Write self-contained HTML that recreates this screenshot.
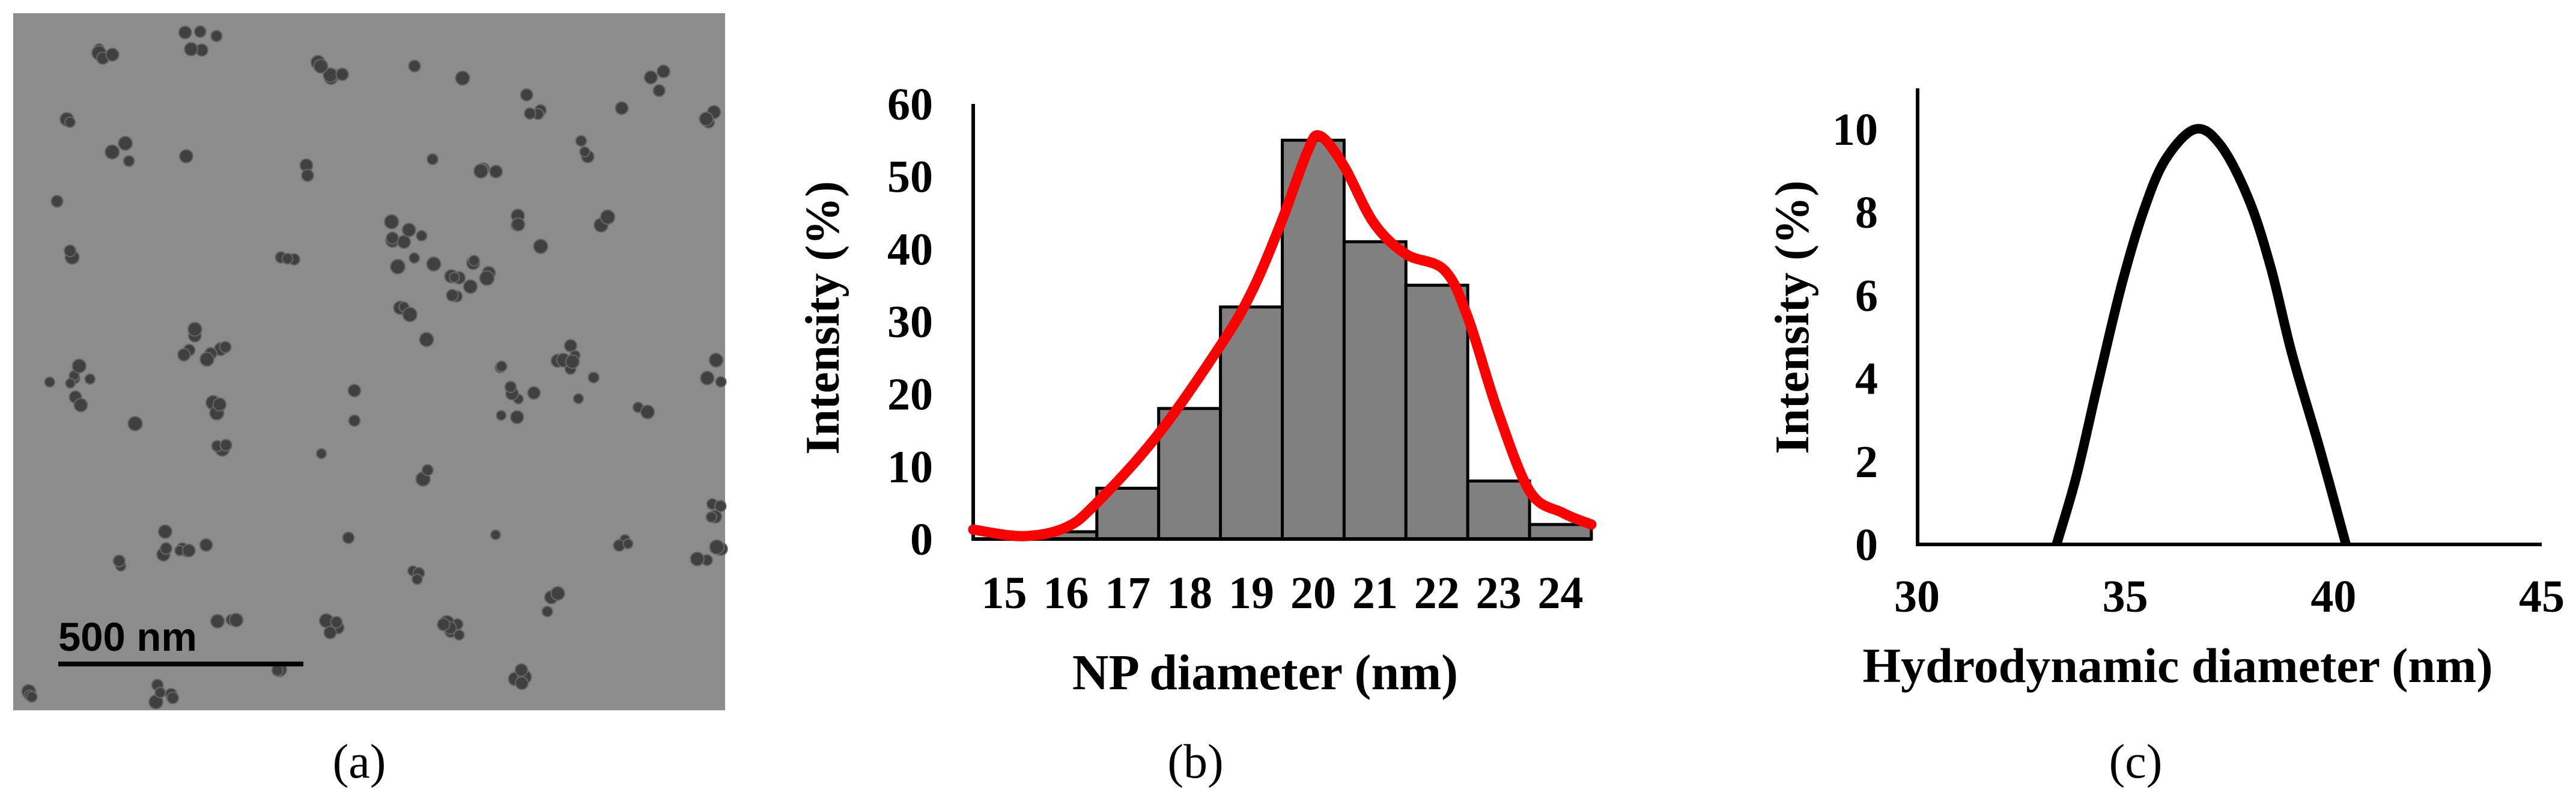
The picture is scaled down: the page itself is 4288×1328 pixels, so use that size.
<!DOCTYPE html>
<html><head><meta charset="utf-8"><style>
html,body{margin:0;padding:0;background:#fff;}
svg{display:block;}
text{font-family:"Liberation Serif",serif;}
</style></head>
<body>
<svg id="fig" width="4288" height="1328" viewBox="0 0 4288 1328" xmlns="http://www.w3.org/2000/svg">
  <g id="panelA">
    <rect x="22" y="22" width="1185" height="1160" fill="#8c8c8c"/>
    <g id="particles"></g>
    <rect x="97" y="1101" width="408" height="8" fill="#000"/>
    <text x="97" y="1083" font-family="Liberation Sans, sans-serif" style="font-family:'Liberation Sans',sans-serif" font-weight="bold" font-size="67" fill="#000">500 nm</text>
    <text x="598" y="1294" font-size="80" text-anchor="middle">(a)</text>
  </g>
  <g id="panelB"></g>
  <g id="panelC"></g>
</svg>
<script>
// ---- Panel (b) data ----
const binCenters = [15,16,17,18,19,20,21,22,23,24];
const binCounts = [0,1,7,18,32,55,41,35,8,2];
const bTicksY = [0,10,20,30,40,50,60];
const fitX = [14.5,15.3,16.0,16.5,17.48,18.5,19.0,19.48,19.9,20.11,20.5,20.98,21.5,22.12,22.5,22.99,23.51,24.04,24.5];
const fitY = [1.3,0.4,1.6,5.0,14.3,26.7,34.0,43.6,53.3,55.6,51.4,43.6,39.3,37.1,30.6,17.5,6.5,3.6,2.0];
// ---- Panel (c) data ----
const dlsX = [33.35,33.83,34.35,34.9,35.43,35.96,36.68,37.3,37.97,38.5,39.0,39.67,40.3];
const dlsY = [0,1.65,3.9,6.2,8.0,9.26,10,9.6,8.3,6.65,4.6,2.3,0];
const cTicksX = [30,35,40,45];
const cTicksY = [0,2,4,6,8,10];

const NS = "http://www.w3.org/2000/svg";
function mk(tag, attrs, parent){
  const e = document.createElementNS(NS, tag);
  for (const k in attrs) e.setAttribute(k, attrs[k]);
  parent.appendChild(e);
  return e;
}
function smoothPath(pts){
  let d = "M" + pts[0][0].toFixed(1) + "," + pts[0][1].toFixed(1);
  for (let i=0;i<pts.length-1;i++){
    const p0 = pts[Math.max(0,i-1)], p1 = pts[i], p2 = pts[i+1], p3 = pts[Math.min(pts.length-1,i+2)];
    const c1x = p1[0] + (p2[0]-p0[0])/6, c1y = p1[1] + (p2[1]-p0[1])/6;
    const c2x = p2[0] - (p3[0]-p1[0])/6, c2y = p2[1] - (p3[1]-p1[1])/6;
    d += " C" + c1x.toFixed(1)+","+c1y.toFixed(1)+" "+c2x.toFixed(1)+","+c2y.toFixed(1)+" "+p2[0].toFixed(1)+","+p2[1].toFixed(1);
  }
  return d;
}

// ---- Panel (a) particles (decorative image texture) ----
(function(){
  const g = document.getElementById('particles');
  const clusters = [[330,60,5],[170,100,4],[560,120,6],[690,110,1],[770,130,1],[890,180,4],[1035,180,1],[1095,130,3],[1180,190,3],[110,200,2],[190,255,4],[310,260,1],[510,275,3],[720,265,1],[800,285,4],[970,240,3],[860,375,3],[1000,375,2],[95,335,1],[120,415,2],[480,440,3],[680,400,8],[750,460,8],[810,450,4],[680,505,3],[900,410,1],[130,630,8],[330,590,8],[360,690,4],[380,750,3],[590,650,1],[710,565,1],[590,700,1],[850,650,8],[960,620,8],[1070,690,2],[1195,620,3],[225,705,1],[535,755,1],[700,795,2],[310,915,8],[200,945,2],[580,895,1],[690,950,3],[825,890,1],[1030,915,3],[1185,860,4],[1185,930,4],[920,1000,3],[380,1030,3],[560,1050,4],[760,1050,6],[270,1150,5],[50,1150,3],[870,1140,4],[460,1115,2]];
  let seed = 7;
  function rnd(){ seed = (seed*16807)%2147483647; return (seed-1)/2147483646; }
  clusters.forEach(c=>{
    for(let i=0;i<c[2];i++){
      const a = rnd()*6.283, r = c[2]>1 ? rnd()*(8+c[2]*5) : 0;
      const cx = Math.min(1200,Math.max(28,c[0]+Math.cos(a)*r));
      const cy = Math.min(1175,Math.max(28,c[1]+Math.sin(a)*r));
      const el = mk('circle',{cx:cx.toFixed(1),cy:cy.toFixed(1),r:(8+rnd()*4).toFixed(1),fill:'#404040',stroke:'#666','stroke-width':2},g);
      
      
    }
  });
})();

// ---- Panel (b) ----
(function(){
  const g = document.getElementById('panelB');
  const X0 = 1620, BW = 102.9, Y0 = 897, Y60 = 173;
  const xb = v => X0 + (v-14.5)*BW;
  const yb = v => Y0 - v*(Y0-Y60)/60;
  binCenters.forEach((c,i)=>{
    const r = mk('rect',{x:xb(c-0.5),y:yb(binCounts[i]),width:BW,height:Y0-yb(binCounts[i]),fill:'#808080',stroke:'#000','stroke-width':5},g);
    
    
  });
  const ax = mk('path',{d:`M${X0},${Y60} L${X0},${Y0} L${xb(24.5)},${Y0}`,fill:'none',stroke:'#000','stroke-width':6},g);
  
  
  const pts = fitX.map((x,i)=>[xb(x), yb(fitY[i])]);
  const fit = mk('path',{d:smoothPath(pts),fill:'none',stroke:'#ff0000','stroke-width':17,'stroke-linecap':'round','stroke-linejoin':'round'},g);
  
  
  bTicksY.forEach(t=>{
    const e = mk('text',{x:1553,y:yb(t)+26,'text-anchor':'end','font-size':76,'font-weight':'bold'},g);
    e.textContent = t;
    
    
  });
  binCenters.forEach(c=>{
    const e = mk('text',{x:xb(c),y:1012,'text-anchor':'middle','font-size':76,'font-weight':'bold'},g);
    e.textContent = c;
    
    
  });
  const xt = mk('text',{x:2106,y:1147,'text-anchor':'middle','font-size':84,'font-weight':'bold'},g);
  xt.textContent = 'NP diameter (nm)';
  
  
  const yt = mk('text',{x:0,y:0,'text-anchor':'middle','font-size':80,'font-weight':'bold',transform:'translate(1396,529) rotate(-90)'},g);
  yt.textContent = 'Intensity (%)';
  
  
  const pl = mk('text',{x:1990,y:1294,'text-anchor':'middle','font-size':80},g);
  pl.textContent = '(b)';
  
  
})();

// ---- Panel (c) ----
(function(){
  const g = document.getElementById('panelC');
  const xc = v => 3191 + (v-30)*(4231-3191)/15;
  const yc = v => 906 - v*(906-215)/10;
  const ax = mk('path',{d:`M3192,147 L3192,906 L4231,906`,fill:'none',stroke:'#000','stroke-width':6},g);
  
  
  const pts = dlsX.map((x,i)=>[xc(x), yc(dlsY[i])]);
  const cv = mk('path',{d:smoothPath(pts),fill:'none',stroke:'#000','stroke-width':16,'stroke-linejoin':'round'},g);
  
  
  cTicksY.forEach(t=>{
    const e = mk('text',{x:3126,y:yc(t)+26,'text-anchor':'end','font-size':76,'font-weight':'bold'},g);
    e.textContent = t;
    
    
  });
  cTicksX.forEach(t=>{
    const e = mk('text',{x:xc(t),y:1018,'text-anchor':'middle','font-size':76,'font-weight':'bold'},g);
    e.textContent = t;
    
    
  });
  const xt = mk('text',{x:3625,y:1135,'text-anchor':'middle','font-size':82,'font-weight':'bold'},g);
  xt.textContent = 'Hydrodynamic diameter (nm)';
  
  
  const yt = mk('text',{x:0,y:0,'text-anchor':'middle','font-size':80,'font-weight':'bold',transform:'translate(3010,528) rotate(-90)'},g);
  yt.textContent = 'Intensity (%)';
  
  
  const pl = mk('text',{x:3555,y:1294,'text-anchor':'middle','font-size':80},g);
  pl.textContent = '(c)';
  
  
})();
</script>
</body></html>
